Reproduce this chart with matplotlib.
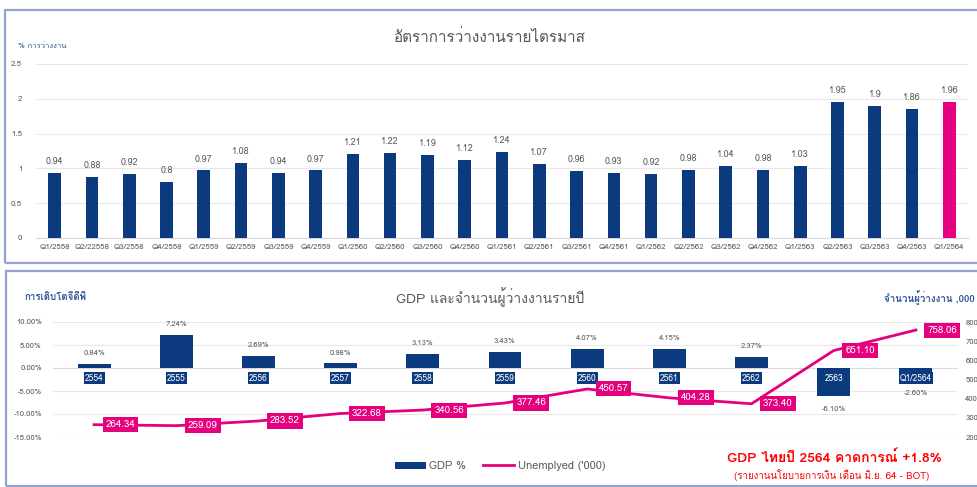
import matplotlib
matplotlib.use("Agg")
import matplotlib.pyplot as plt
from matplotlib import font_manager
from matplotlib.ft2font import FT2Font
from matplotlib.patches import Rectangle, Patch
from matplotlib.lines import Line2D
import numpy as np

# ---------------- data ----------------
quarters = ["Q1/2558", "Q2/22558", "Q3/2558", "Q4/2558", "Q1/2559", "Q2/2559", "Q3/2559",
            "Q4/2559", "Q1/2560", "Q2/2560", "Q3/2560", "Q4/2560", "Q1/2561", "Q2/2561",
            "Q3/2561", "Q4/2561", "Q1/2562", "Q2/2562", "Q3/2562", "Q4/2562", "Q1/2563",
            "Q2/2563", "Q3/2563", "Q4/2563", "Q1/2564"]
unemp_rate = [0.94, 0.88, 0.92, 0.8, 0.97, 1.08, 0.94, 0.97, 1.21, 1.22, 1.19, 1.12, 1.24,
              1.07, 0.96, 0.93, 0.92, 0.98, 1.04, 0.98, 1.03, 1.95, 1.9, 1.86, 1.96]
top_yticks = [0, 0.5, 1, 1.5, 2, 2.5]

years = ["2554", "2555", "2556", "2557", "2558", "2559", "2560", "2561", "2562", "2563", "Q1/2564"]
gdp_growth = [0.84, 7.24, 2.69, 0.98, 3.13, 3.43, 4.07, 4.15, 2.37, -6.10, -2.60]
unemployed = [264.34, 259.09, 283.52, 322.68, 340.56, 377.46, 450.57, 404.28, 373.40, 651.10, 758.06]
left_yticks = [10, 5, 0, -5, -10, -15]
right_yticks = [200, 300, 400, 500, 600, 700, 800]

# ---------------- fonts ----------------
def find_thai_family():
    seen = set()
    for f in font_manager.fontManager.ttflist:
        if f.name in seen:
            continue
        seen.add(f.name)
        try:
            cm = FT2Font(f.fname).get_charmap()
            if 0x0E01 in cm and 0x0E32 in cm:
                return f.name
        except Exception:
            pass
    return None

thai = find_thai_family()
fams = ([thai] if thai else []) + ["DejaVu Sans"]
plt.rcParams["font.family"] = fams

NAVY = "#0B3A7E"
MAG = "#E5007D"
GRAY = "#595959"
GRID = "#E8E8E8"
FRAME = "#8FA3CD"

W, H = 977, 487
fig = plt.figure(figsize=(W / 100, H / 100), dpi=100)

def fx(x):
    return x / W

def fy(y):
    return 1 - y / H

# panel frames
fig.patches.append(Rectangle((fx(5), fy(263)), fx(990) - fx(5), fy(10) - fy(263),
                             transform=fig.transFigure, fill=False, edgecolor=FRAME, lw=1.6))
fig.patches.append(Rectangle((fx(6), fy(486)), fx(990) - fx(6), fy(271) - fy(486),
                             transform=fig.transFigure, fill=False, edgecolor=FRAME, lw=1.6))

# ---------------- top chart ----------------
ax1 = fig.add_axes([fx(36), fy(238), fx(968) - fx(36), fy(64) - fy(238)])
x1 = np.arange(len(quarters))
colors = [NAVY] * (len(quarters) - 1) + [MAG]
ax1.bar(x1, unemp_rate, width=0.34, color=colors, zorder=3)
for xi, v in zip(x1, unemp_rate):
    ax1.annotate(f"{v:g}", (xi, v), xytext=(0, 5), textcoords="offset points",
                 ha="center", va="bottom", fontsize=6.5, color=GRAY)
ax1.set_xlim(-0.5, len(quarters) - 0.5)
ax1.set_ylim(0, 2.5)
ax1.set_yticks(top_yticks)
ax1.set_yticklabels([f"{t:g}" for t in top_yticks])
ax1.set_xticks(x1)
ax1.set_xticklabels(quarters)
ax1.tick_params(axis="both", length=0, labelsize=5.7, colors=GRAY, pad=4)
ax1.tick_params(axis="y", pad=10)
ax1.yaxis.grid(True, color=GRID, lw=0.8, zorder=0)
for s in ["top", "right", "left"]:
    ax1.spines[s].set_visible(False)
ax1.spines["bottom"].set_color("#D9D9D9")
fig.text(fx(490), fy(37), "อัตราการว่างงานรายไตรมาส", ha="center", va="center",
         fontsize=11, color=GRAY)
fig.text(fx(18), fy(47), "% การว่างงาน", ha="left", va="center", fontsize=5.5, color="#2F5597")

# ---------------- bottom chart ----------------
ax2 = fig.add_axes([fx(53), fy(437), fx(957) - fx(53), fy(322) - fy(437)])
x2 = np.arange(len(years))
ax2.bar(x2, gdp_growth, width=0.4, color=NAVY, zorder=3, label="GDP %")
for xi, v in zip(x2, gdp_growth):
    if v >= 0:
        ax2.annotate(f"{v:.2f}%", (xi, v), xytext=(0, 5), textcoords="offset points",
                     ha="center", va="bottom", fontsize=5.5, color=GRAY)
    else:
        ax2.annotate(f"{v:.2f}%", (xi, v), xytext=(0, -7), textcoords="offset points",
                     ha="center", va="top", fontsize=5.5, color=GRAY)
ax2.set_xlim(-0.5, len(years) - 0.5)
ax2.set_ylim(-15, 10)
ax2.set_yticks(left_yticks)
ax2.set_yticklabels([f"{t:.2f}%" for t in left_yticks])
ax2.yaxis.grid(True, color=GRID, lw=0.8, zorder=0)
ax2.set_xticks(x2)
ax2.set_xticklabels(years)
ax2.spines["bottom"].set_position(("data", 0))
ax2.spines["bottom"].set_color("#D9D9D9")
for s in ["top", "right", "left"]:
    ax2.spines[s].set_visible(False)
ax2.tick_params(axis="y", length=0, labelsize=5.5, colors=GRAY, pad=8)
ax2.tick_params(axis="x", length=0, labelsize=6, colors="white", pad=4)
ax2.xaxis.set_zorder(4)
for lab in ax2.get_xticklabels():
    lab.set_bbox(dict(facecolor=NAVY, edgecolor="none", pad=0.8))

ax3 = ax2.twinx()
ax3.plot(x2, unemployed, color=MAG, lw=2, zorder=4, label="Unemplyed ('000)")
for xi, v in zip(x2, unemployed):
    ax3.annotate(f"{v:.2f}", (xi, v), xytext=(19, 0), textcoords="offset points",
                 ha="center", va="center", fontsize=7, color="white", zorder=6,
                 bbox=dict(facecolor=MAG, edgecolor="none", pad=2.2))
ax3.set_ylim(200, 800)
ax3.set_yticks(right_yticks)
ax3.tick_params(axis="y", length=0, labelsize=5.5, colors=GRAY, pad=6)
for s in ax3.spines.values():
    s.set_visible(False)

fig.text(fx(490), fy(297), "GDP และจำนวนผู้ว่างงานรายปี", ha="center", va="center",
         fontsize=10, color=GRAY)
fig.text(fx(24), fy(298), "การเติบโตจีดีพี", ha="left", va="center", fontsize=7,
         color="#2F5597", fontweight="bold")
fig.text(fx(975), fy(298), "จำนวนผู้ว่างงาน ,000", ha="right", va="center", fontsize=7,
         color="#2F5597", fontweight="bold")

handles = [Patch(facecolor=NAVY, edgecolor="none"), Line2D([], [], color=MAG, lw=2)]
fig.legend(handles, ["GDP %", "Unemplyed ('000)"], loc="center", ncol=2,
           bbox_to_anchor=(fx(500), fy(466)), frameon=False, fontsize=8,
           labelcolor=GRAY, handlelength=2.8, handleheight=0.6, columnspacing=1.5,
           handletextpad=0.3)

fig.text(fx(834), fy(458), "GDP ไทยปี 2564 คาดการณ์ +1.8%", ha="center", va="center",
         fontsize=10, color="#FF0000", fontweight="bold")
fig.text(fx(832), fy(475), "(รายงานนโยบายการเงิน เดือน มิ.ย. 64 - BOT)", ha="center",
         va="center", fontsize=7, color="#FF0000")

fig.savefig("out.png", dpi=100)
